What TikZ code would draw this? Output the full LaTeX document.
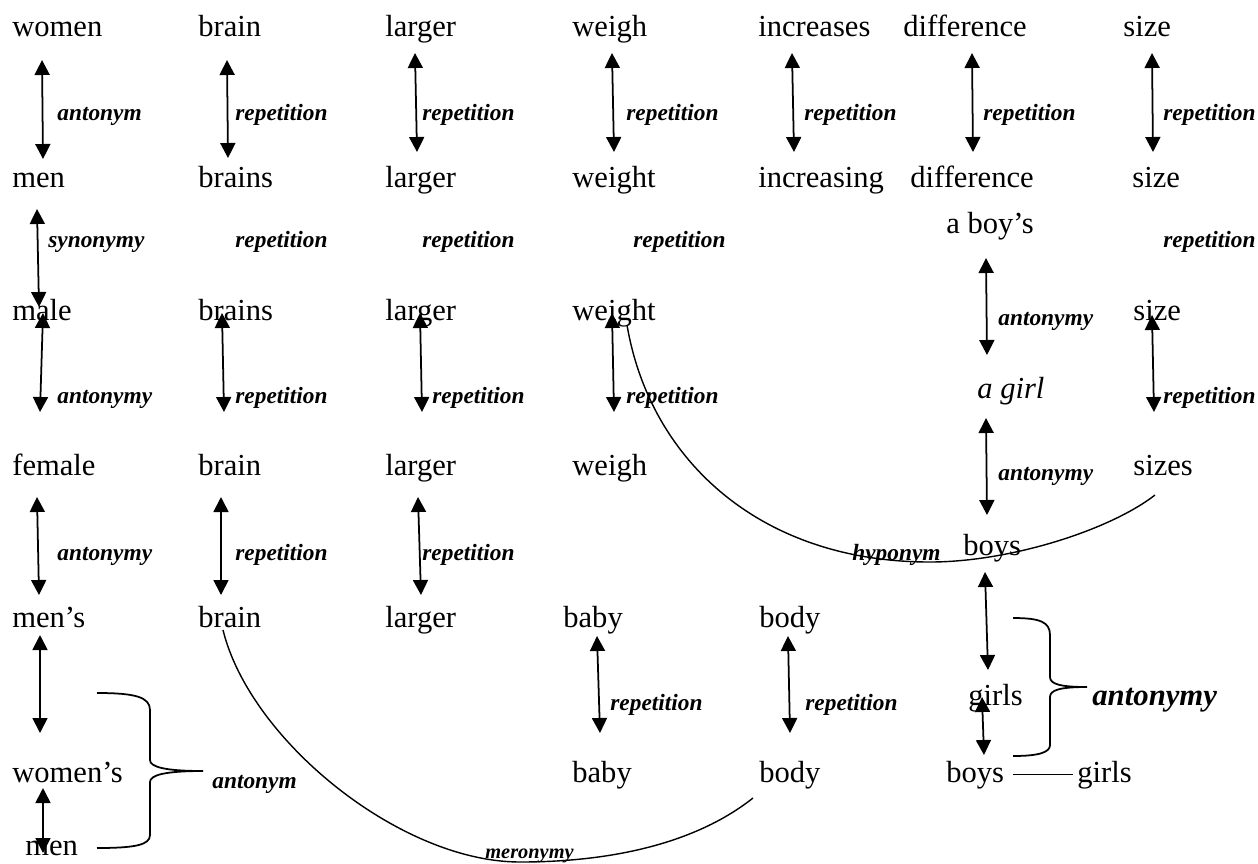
\documentclass[tikz,border=0pt]{standalone}
\usepackage{fontspec}
\setmainfont{Liberation Serif}
\usetikzlibrary{arrows.meta,calc}
\newcommand{\wordfnt}{\fontsize{17.4pt}{20pt}\selectfont}
\newcommand{\relfnt}{\fontsize{13.3pt}{16pt}\selectfont\bfseries\itshape}
\tikzset{
  word/.style={anchor=base west, inner sep=0pt, font=\wordfnt},
  rel/.style={anchor=base west, inner sep=0pt, font=\relfnt},
  dblarr/.style={{Triangle[length=0.3cm,width=0.3cm]}-{Triangle[length=0.3cm,width=0.3cm]}, line width=1pt},
  arcline/.style={line width=0.8pt},
  bracket/.style={line width=1pt},
  link/.style={line width=0.8pt}
}

\begin{document}
\begin{tikzpicture}[x=0.02cm, y=-0.02cm]
    \useasboundingbox (0,0) rectangle (1258,863);
    % word rows
    \foreach \x/\w [count=\i] in {12/women,198/brain,385/larger,572/weigh,758/increases,903/difference,1123/size}
      \node[word] (r1-\i) at (\x,36) {\w};
    \foreach \x/\w [count=\i] in {12/men,198/brains,385/larger,572/weight,758/increasing,910/difference,1132/size}
      \node[word] (r2-\i) at (\x,187) {\w};
    \foreach \x/\w [count=\i] in {12/male,198/brains,385/larger,572/weight,1133/size}
      \node[word] (r3-\i) at (\x,320) {\w};
    \foreach \x/\w [count=\i] in {12/female,198/brain,385/larger,572/weigh,1133/sizes}
      \node[word] (r5-\i) at (\x,475) {\w};
    \foreach \x/\w [count=\i] in {12/men’s,198/brain,385/larger,563/baby,759/body}
      \node[word] (r7-\i) at (\x,627) {\w};
    \foreach \x/\w [count=\i] in {12/women’s,572/baby,759/body,946/boys,1077/girls}
      \node[word] (r9-\i) at (\x,782) {\w};
    \node[word] (boy) at (946,233) {a boy’s};
    \node[word, font=\wordfnt\itshape] (girl) at (977,398) {a girl};
    \node[word] (boys) at (963,555) {boys};
    \node[word] (girls) at (968,705) {girls};
    \node[word] (men) at (25,855) {men};

    % relation labels
    \foreach \x/\y/\t [count=\n] in {
      57/120/antonym,235/120/repetition,422/120/repetition,626/120/repetition,804/120/repetition,983/120/repetition,1163/120/repetition,
      48/247/synonymy,235/247/repetition,422/247/repetition,633/247/repetition,1163/247/repetition,
      998/325/antonymy,
      57/403/antonymy,235/403/repetition,432/403/repetition,626/403/repetition,1163/403/repetition,
      998/480/antonymy,
      57/560/antonymy,235/560/repetition,422/560/repetition,852/560/hyponym,
      610/710/repetition,805/710/repetition,212/788/antonym}
      \node[rel] (l\n) at (\x,\y) {\t};
    \node[rel, font=\relfnt\fontsize{11.6pt}{14pt}\selectfont] (mero) at (485,858) {meronymy};
    \node[rel, font=\fontsize{17.5pt}{20pt}\selectfont\bfseries\itshape] (anto) at (1092,705) {antonymy};

    % two-way arrows
    \foreach \xa/\ya/\xb/\yb [count=\n] in {
      42/60/43/159,227/60/228/158,415/53/417/152,612/53/614/152,792/53/794/152,972/53/973/152,1152/53/1153/152,
      37/209/39/307,
      43/313/40/412,222/313/224/412,420/313/422/412,612/313/614/412,986/258/987/355,1152/315/1154/412,
      37/497/39/595,221/497/221/595,418/497/421/595,986/418/987/515,
      40/635/40/733,597/636/600/733,788/636/790/733,985/572/988/670,982/697/984/755,43/788/43/853} {
      \coordinate (p\n) at (\xa,\ya);
      \coordinate (q\n) at (\xb,\yb);
      \draw[dblarr] (p\n) -- (q\n);
    }

    % long arcs
    \draw[arcline] ($(r3-4.base west)+(55,5)$) .. controls +(23,135) and +(-170,0) .. (930,562)
      .. controls +(80,0) and +(-45,35) .. ($(r5-5.base west)+(22,20)$);
    \draw[arcline] ($(r7-2.base west)+(25,3)$) .. controls +(27,110) and +(-120,0) .. (520,862)
      .. controls +(100,0) and +(-53,42) .. ($(r9-3.base west)+(-6,16)$);

    % braces
    \draw[bracket] (97,693) .. controls (135,693) and (150,697) .. (150,710) -- (150,760)
      .. controls (150,767) and (165,771) .. (203,771) .. controls (165,771) and (150,775) .. (150,782)
      -- (150,835) .. controls (150,845) and (135,848) .. (97,848);
    \draw[bracket] (1013,618) .. controls (1040,618) and (1050,622) .. (1050,635) -- (1050,677)
      .. controls (1050,684) and (1060,687) .. (1087,687) .. controls (1060,687) and (1050,690) .. (1050,697)
      -- (1050,745) .. controls (1050,752) and (1040,756) .. (1013,756);

    \draw[link, shorten <=0.18cm, shorten >=0.08cm] (r9-4.east) -- (r9-5.west);
  \end{tikzpicture}
\end{document}
